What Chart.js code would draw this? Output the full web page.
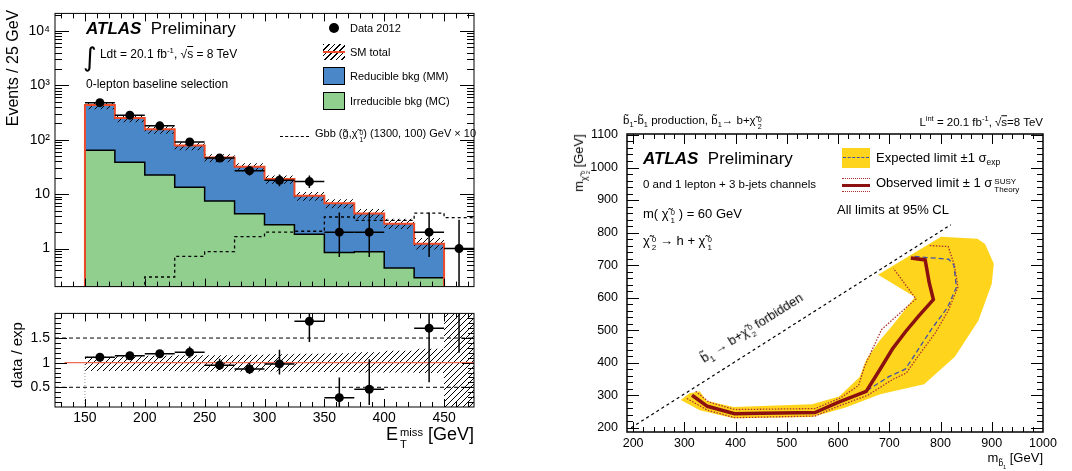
<!DOCTYPE html>
<html>
<head>
<meta charset="utf-8">
<script src="https://cdn.jsdelivr.net/npm/chart.js@4.4.1/dist/chart.umd.min.js"></script>
<style>
  html, body { margin:0; padding:0; background:#fff; }
  body { width:1072px; height:471px; position:relative; overflow:hidden; font-family:"Liberation Sans", Arial, Helvetica, sans-serif; color:#000; }
  canvas { position:absolute; }
  .t { position:absolute; white-space:nowrap; line-height:1; transform:translateY(-50%); }
  .r { transform:translate(-100%,-50%); }
  .rot { position:absolute; white-space:nowrap; line-height:1; transform:translate(-50%,-50%) rotate(-90deg); }
  .ss { display:inline-flex; flex-direction:column; vertical-align:0.32em; font-size:0.62em; line-height:1.0; margin-left:2px; }
  sup, sub { font-size:0.65em; line-height:0; }
  .sw { position:absolute; box-sizing:border-box; }
</style>
</head>
<body>
<canvas id="cMain" width="480" height="300" style="left:0;top:0"></canvas>
<canvas id="cRatio" width="480" height="171" style="left:0;top:300px"></canvas>
<canvas id="cLim" width="512" height="361" style="left:560px;top:110px"></canvas>

<!-- left panel text -->
<div class="t" style="left:86px;top:28px;font-size:17px"><b><i>ATLAS</i></b>&nbsp; Preliminary</div>
<div class="t" style="left:83px;top:57px;font-size:12px"><span style="font-size:26px;vertical-align:-0.3em;font-family:'DejaVu Sans'">∫</span> Ldt = 20.1 fb<sup>-1</sup>, √<span style="text-decoration:overline">s</span> = 8 TeV</div>
<div class="t" style="left:86px;top:84px;font-size:12px">0-lepton baseline selection</div>

<div class="sw" style="left:329px;top:23px;width:10px;height:10px;border-radius:50%;background:#000"></div>
<div class="t" style="left:350px;top:28px;font-size:11px">Data 2012</div>
<div class="sw" style="left:323px;top:44px;width:22px;height:16px;background:repeating-linear-gradient(135deg,#000 0 1px,transparent 1px 4px)"></div>
<div class="sw" style="left:323px;top:51px;width:22px;height:2px;background:#ee4b2b"></div>
<div class="t" style="left:350px;top:52px;font-size:11px">SM total</div>
<div class="sw" style="left:323px;top:67px;width:22px;height:18px;background:#4a87c9;border:1.5px solid #000"></div>
<div class="t" style="left:350px;top:76px;font-size:11px">Reducible bkg (MM)</div>
<div class="sw" style="left:323px;top:92px;width:22px;height:18px;background:#91cf8e;border:1.5px solid #000"></div>
<div class="t" style="left:350px;top:101px;font-size:11px">Irreducible bkg (MC)</div>
<div class="sw" style="left:280px;top:136px;width:29px;height:0;border-top:1.5px dashed #000"></div>
<div class="t" style="left:315px;top:136px;font-size:11px">Gbb (g&#771;,χ&#771;<span class="ss"><span>0</span><span>1</span></span>) (1300, 100) GeV × 10</div>

<div class="rot" style="left:13px;top:68px;font-size:16px">Events / 25 GeV</div>
<div class="rot" style="left:16px;top:355px;font-size:15px">data / exp</div>
<div class="t r" style="left:474px;top:437px;font-size:18px">E<span class="ss"><span>miss</span><span>T</span></span> [GeV]</div>

<!-- right panel text -->
<div class="t" style="left:623px;top:123px;font-size:11.5px">b&#771;<sub>1</sub>-b&#771;<sub>1</sub> production, b&#771;<sub>1</sub>→ b+χ&#771;<span class="ss"><span>0</span><span>2</span></span></div>
<div class="t r" style="left:1043px;top:123px;font-size:11.5px">L<sup>int</sup> = 20.1 fb<sup>-1</sup>, √<span style="text-decoration:overline">s</span>=8 TeV</div>
<div class="t" style="left:643px;top:158px;font-size:17px"><b><i>ATLAS</i></b>&nbsp; Preliminary</div>
<div class="t" style="left:643px;top:185px;font-size:11.5px">0 and 1 lepton + 3 b-jets channels</div>
<div class="t" style="left:643px;top:216px;font-size:13px">m( χ&#771;<span class="ss"><span>0</span><span>1</span></span> ) = 60 GeV</div>
<div class="t" style="left:643px;top:243px;font-size:13px">χ&#771;<span class="ss"><span>0</span><span>2</span></span> → h + χ&#771;<span class="ss"><span>0</span><span>1</span></span></div>

<div class="sw" style="left:842px;top:148px;width:28px;height:20px;background:#fed51c"></div>
<div class="sw" style="left:843px;top:157px;width:26px;height:0;border-top:1.5px dashed #4450a8"></div>
<div class="t" style="left:876px;top:157px;font-size:13px">Expected limit ±1 σ<sub>exp</sub></div>
<div class="sw" style="left:842px;top:178px;width:28px;height:0;border-top:1.3px dotted #b03030"></div>
<div class="sw" style="left:842px;top:184px;width:28px;height:3px;background:#8b1010"></div>
<div class="sw" style="left:842px;top:191px;width:28px;height:0;border-top:1.3px dotted #b03030"></div>
<div class="t" style="left:876px;top:185px;font-size:13px">Observed limit ± 1 σ<span class="ss"><span>SUSY</span><span>Theory</span></span></div>
<div class="t" style="left:837px;top:209px;font-size:13px">All limits at 95% CL</div>

<div class="t" style="left:753px;top:330px;font-size:13px;transform:translate(-50%,-50%) rotate(-32.3deg)">b&#771;<sub>1</sub> → b+χ&#771;<span class="ss"><span>0</span><span>2</span></span> forbidden</div>
<div class="rot" style="left:582px;top:163px;font-size:13px">m<span style="font-size:0.7em;vertical-align:-0.4em">χ&#771;<span class="ss"><span>0</span><span>2</span></span></span> [GeV]</div>
<div class="t r" style="left:1043px;top:459px;font-size:13px">m<sub>b&#771;<sub>1</sub></sub> [GeV]</div>

<script>
// ---------- left: E_T^miss distribution (log scale) ----------
const binEdges    = [150, 175, 200, 225, 250, 275, 300, 325, 350, 375, 400, 425, 450, 475];
const dataCounts  = [480, 283, 180, 91, 46, 27, 18, 17, 2, 2, 0, 2, 1];
const dataLow     = [459, 266, 167, 82, 39.5, 22, 14, 13, 0.7, 0.7, 0, 0.7, 0.17];
const dataHigh    = [502, 300, 194, 101, 53.5, 33, 23, 22, 4.6, 4.6, 0, 4.6, 3.4];
const smTotal     = [436, 252, 156, 78, 47, 32, 18.9, 9.3, 6.8, 4.4, 2.86, 1.22];
const irreducible = [64, 38.7, 22.4, 13.4, 7.5, 4.37, 2.75, 1.84, 0.85, 0.875, 0.44, 0.29];
const gbbSignal   = [0.1, 0.1, 0.30, 0.72, 0.875, 1.66, 2.0, 2.08, 3.8, 3.3, 3.3, 4.5, 3.7];
// relative SM uncertainty (last bin: full hatch in ratio panel)
const bandUp = [1.12, 1.13, 1.14, 1.15, 1.15, 1.16, 1.17, 1.18, 1.19, 1.21, 1.24, 1.28, 3.0];
const bandDn = [0.83, 0.83, 0.83, 0.82, 0.82, 0.82, 0.82, 0.81, 0.81, 0.80, 0.80, 0.79, 0.0];
// data / expected
const ratioVal  = [1.11, 1.14, 1.18, 1.21, 0.95, 0.87, 0.975, 1.84, 0.29, 0.46, 0, 1.70, 3.0];
const ratioLow  = [1.06, 1.08, 1.11, 1.10, 0.85, 0.77, 0.76, 1.42, 0.10, 0.14, 0, 0.60, 1.2];
const ratioHigh = [1.16, 1.20, 1.25, 1.33, 1.08, 1.00, 1.26, 2.60, 0.70, 1.07, 0, 2.60, 5.0];

const mainTicks = [1, 10, 100, 1000, 10000];
const mainTickLabels = ['1', '10', '10²', '10³', '10⁴'];
const ratioTicks = [0.5, 1, 1.5];
const ratioTickLabels = ['0.5', '1', '1.5'];
const metTicks = [150, 200, 250, 300, 350, 400, 450];

// ---------- right: exclusion limits in (m_b1, m_chi2) ----------
const yellowBand = [[293,285],[330,254],[396,229],[549,233],[615,262],[682,303],[768,334],[828,418],
  [874,530],[900,643],[904,704],[887,765],[872,781],[801,787],[678,670],[750,602],[705,512],[682,470],
  [655,410],[642,356],[602,296],[549,272],[396,264],[343,283],[330,312],[310,306]];
const expectedLimit = [[315,300],[345,266],[398,243],[450,245],[555,247],[600,278],[655,313],[700,358],
  [731,380],[748,420],[781,500],[814,571],[831,632],[826,700],[816,718],[745,727]];
const observedLimit = [[315,300],[345,266],[398,243],[450,245],[555,247],[600,278],[655,312],[682,380],
  [706,442],[732,496],[758,545],[786,594],[778,645],[770,716],[742,722]];
const observedUp = [[305,290],[345,254],[398,231],[555,236],[600,266],[658,300],[708,350],[733,368],
  [760,428],[790,492],[815,560],[834,632],[827,700],[815,757],[778,760]];
const observedDn = [[322,312],[348,279],[398,256],[555,259],[605,292],[640,330],[652,390],[685,502],
  [752,596],[708,690]];
const kinematicLimit = [[196,200],[820,824]];
const limXTicks = [200, 300, 400, 500, 600, 700, 800, 900, 1000];
const limYTicks = [200, 300, 400, 500, 600, 700, 800, 900, 1000, 1100];

const BLUE = '#4a87c9', GREEN = '#91cf8e', RED = '#ee4b2b', YELLOW = '#fed51c';
const FONT = 'Liberation Sans';

Chart.defaults.font.family = FONT;
Chart.defaults.color = '#000';

function range(a, b, s) { const r = []; for (let v = a; v <= b + 1e-9; v += s) r.push(+v.toFixed(4)); return r; }

function steps(vals, floor) {
  const pts = vals.map((v, i) => ({ x: binEdges[i], y: v }));
  if (floor !== undefined) {
    pts.unshift({ x: binEdges[0], y: floor });
    pts.push({ x: binEdges[vals.length], y: floor });
  } else {
    pts.push({ x: binEdges[vals.length], y: vals[vals.length - 1] });
  }
  return pts;
}

function hatch(canvas) {
  const c = document.createElement('canvas');
  c.width = c.height = 6;
  const g = c.getContext('2d');
  g.strokeStyle = '#000'; g.lineWidth = 1;
  g.beginPath();
  g.moveTo(0, 6); g.lineTo(6, 0);
  g.moveTo(-1, 1); g.lineTo(1, -1);
  g.moveTo(5, 7); g.lineTo(7, 5);
  g.stroke();
  return canvas.getContext('2d').createPattern(c, 'repeat');
}

// ROOT-like frame with inward ticks on all four sides
function frameTicks(cfg) {
  return {
    id: 'frameTicks',
    afterDraw(chart) {
      const { ctx, chartArea: a, scales: { x, y } } = chart;
      ctx.save();
      ctx.strokeStyle = '#000';
      ctx.lineWidth = 1;
      ctx.beginPath();
      const xt = (vals, len) => vals.forEach(v => {
        const p = Math.round(x.getPixelForValue(v)) + 0.5;
        if (p < a.left || p > a.right) return;
        ctx.moveTo(p, a.bottom); ctx.lineTo(p, a.bottom - len);
        ctx.moveTo(p, a.top); ctx.lineTo(p, a.top + len);
      });
      const yt = (vals, len) => vals.forEach(v => {
        const p = Math.round(y.getPixelForValue(v)) + 0.5;
        if (p < a.top || p > a.bottom) return;
        ctx.moveTo(a.left, p); ctx.lineTo(a.left + len, p);
        ctx.moveTo(a.right, p); ctx.lineTo(a.right - len, p);
      });
      xt(cfg.xMajor, cfg.xLen[0]); xt(cfg.xMinor, cfg.xLen[1]);
      yt(cfg.yMajor, cfg.yLen[0]); yt(cfg.yMinor, cfg.yLen[1]);
      ctx.stroke();
      ctx.lineWidth = cfg.lw || 1;
      ctx.strokeRect(a.left, a.top, a.width, a.height);
      ctx.restore();
    }
  };
}

const errorBars = {
  id: 'errorBars',
  afterDatasetsDraw(chart) {
    const { ctx, chartArea: a, scales: { x, y } } = chart;
    ctx.save();
    ctx.beginPath(); ctx.rect(a.left, a.top, a.width, a.height); ctx.clip();
    ctx.strokeStyle = '#000'; ctx.lineWidth = 1.5;
    chart.data.datasets.forEach(ds => {
      if (!ds.errLo) return;
      ds.data.forEach((p, i) => {
        if (p.y == null) return;
        const px = x.getPixelForValue(p.x), py = y.getPixelForValue(p.y);
        ctx.beginPath();
        ctx.moveTo(x.getPixelForValue(p.x - ds.xErr), py);
        ctx.lineTo(x.getPixelForValue(p.x + ds.xErr), py);
        ctx.moveTo(px, y.getPixelForValue(ds.errLo[i]));
        ctx.lineTo(px, y.getPixelForValue(ds.errHi[i]));
        ctx.stroke();
      });
    });
    ctx.restore();
  }
};

const binCenters = binEdges.slice(0, -1).map(e => e + 12.5);
const noLine = { borderColor: 'rgba(0,0,0,0)', borderWidth: 0, pointRadius: 0 };
const axisOff = { grid: { display: false, drawTicks: false }, border: { display: false } };

const logMinor = [];
[0.1, 1, 10, 100, 1000, 10000].forEach(d => { for (let m = 2; m <= 9; m++) logMinor.push(m * d); });

// ---- main histogram
const cMain = document.getElementById('cMain');
const hMain = hatch(cMain);
new Chart(cMain, {
  type: 'line',
  data: { datasets: [
    { data: steps(smTotal, 0.05), stepped: true, fill: 'start', backgroundColor: BLUE, ...noLine, order: 6 },
    { data: steps(irreducible, 0.05), stepped: true, fill: 'start', backgroundColor: GREEN, borderColor: '#000', borderWidth: 1.5, pointRadius: 0, order: 5 },
    { data: steps(smTotal.map((v, i) => v * bandUp[i])), stepped: true, fill: '+1', backgroundColor: hMain, ...noLine, order: 4 },
    { data: steps(smTotal.map((v, i) => v * bandDn[i])), stepped: true, fill: false, ...noLine, order: 4 },
    { data: steps(gbbSignal), stepped: true, fill: false, borderColor: '#000', borderWidth: 1.3, borderDash: [3, 3], pointRadius: 0, order: 3 },
    { data: steps(smTotal, 0.05), stepped: true, fill: false, borderColor: RED, borderWidth: 2, pointRadius: 0, order: 2 },
    { data: binCenters.map((x, i) => ({ x, y: dataCounts[i] > 0 ? dataCounts[i] : null })),
      showLine: false, pointRadius: 4.5, pointBackgroundColor: '#000', pointBorderWidth: 0,
      errLo: dataLow, errHi: dataHigh, xErr: 12.5, order: 1 }
  ]},
  options: {
    responsive: false, animation: false, events: [],
    layout: { padding: { left: 0, top: 6, right: 6, bottom: 4 } },
    plugins: { legend: { display: false }, tooltip: { enabled: false } },
    scales: {
      x: { type: 'linear', min: 125, max: 475, display: false },
      y: { type: 'logarithmic', min: 0.2, max: 21000, ...axisOff,
           afterFit: s => { s.width = 55; },
           afterBuildTicks: s => { s.ticks = mainTicks.map(v => ({ value: v })); },
           ticks: { font: { size: 14 }, color: '#000', padding: 5, callback: v => mainTickLabels[mainTicks.indexOf(v)] } }
    }
  },
  plugins: [errorBars, frameTicks({ xMajor: metTicks, xMinor: range(130, 470, 10), xLen: [8, 5],
                                    yMajor: mainTicks, yMinor: logMinor, yLen: [14, 7] })]
});

// ---- ratio panel
const cRatio = document.getElementById('cRatio');
const hRatio = hatch(cRatio);
new Chart(cRatio, {
  type: 'line',
  data: { datasets: [
    { data: bandUp.map((v, i) => ({ x: binEdges[i], y: v })).concat([{ x: 475, y: bandUp[12] }]), stepped: true, fill: '+1', backgroundColor: hRatio, ...noLine, order: 6 },
    { data: bandDn.map((v, i) => ({ x: binEdges[i], y: v })).concat([{ x: 475, y: bandDn[12] }]), stepped: true, fill: false, ...noLine, order: 6 },
    { data: [{ x: 133, y: 1 }, { x: 475, y: 1 }], borderColor: '#ef6a55', borderWidth: 1.3, pointRadius: 0, order: 3 },
    { data: [{ x: 125, y: 0.5 }, { x: 475, y: 0.5 }], borderColor: '#000', borderWidth: 1, borderDash: [4, 3], pointRadius: 0, order: 4 },
    { data: [{ x: 125, y: 1.5 }, { x: 475, y: 1.5 }], borderColor: '#000', borderWidth: 1, borderDash: [4, 3], pointRadius: 0, order: 4 },
    { data: [{ x: 150, y: 0.1 }, { x: 150, y: 1 }], borderColor: '#999', borderWidth: 1, borderDash: [1, 2], pointRadius: 0, order: 4 },
    { data: binCenters.map((x, i) => ({ x, y: ratioVal[i] > 0 ? ratioVal[i] : null })),
      showLine: false, pointRadius: 4.5, pointBackgroundColor: '#000', pointBorderWidth: 0,
      errLo: ratioLow, errHi: ratioHigh, xErr: 12.5, order: 1 }
  ]},
  options: {
    responsive: false, animation: false, events: [],
    layout: { padding: { left: 0, top: 5, right: 6, bottom: 0 } },
    plugins: { legend: { display: false }, tooltip: { enabled: false } },
    scales: {
      x: { type: 'linear', min: 125, max: 475, ...axisOff,
           afterFit: s => { s.height = 64; },
           afterBuildTicks: s => { s.ticks = metTicks.map(v => ({ value: v })); },
           ticks: { font: { size: 14 }, color: '#000', padding: 3, maxRotation: 0, autoSkip: false, callback: v => String(v) } },
      y: { type: 'linear', min: 0.1, max: 2.0, ...axisOff,
           afterFit: s => { s.width = 55; },
           afterBuildTicks: s => { s.ticks = ratioTicks.map(v => ({ value: v })); },
           ticks: { font: { size: 14 }, color: '#000', padding: 5, callback: v => ratioTickLabels[ratioTicks.indexOf(v)] } }
    }
  },
  plugins: [errorBars, frameTicks({ xMajor: metTicks, xMinor: range(130, 470, 10), xLen: [8, 5],
                                    yMajor: ratioTicks, yMinor: range(0.2, 1.9, 0.1), yLen: [12, 6] })]
});

// ---- limit plot
const cLim = document.getElementById('cLim');
const xy = arr => arr.map(([x, y]) => ({ x, y }));
new Chart(cLim, {
  type: 'line',
  data: { datasets: [
    { data: xy(yellowBand), fill: 'shape', backgroundColor: YELLOW, ...noLine, order: 6 },
    { data: xy(observedUp), borderColor: '#b03030', borderWidth: 1.3, borderDash: [1.5, 1.5], pointRadius: 0, fill: false, order: 4 },
    { data: xy(observedDn), borderColor: '#b03030', borderWidth: 1.3, borderDash: [1.5, 1.5], pointRadius: 0, fill: false, order: 4 },
    { data: xy(expectedLimit), borderColor: '#4450a8', borderWidth: 1.3, borderDash: [5, 3], pointRadius: 0, fill: false, order: 3 },
    { data: xy(observedLimit), borderColor: '#8b1010', borderWidth: 3.5, pointRadius: 0, fill: false, order: 2 },
    { data: xy(kinematicLimit), borderColor: '#000', borderWidth: 1.2, borderDash: [3, 3], pointRadius: 0, fill: false, order: 1 }
  ]},
  options: {
    responsive: false, animation: false, events: [],
    layout: { padding: { left: 0, top: 24, right: 29, bottom: 0 } },
    plugins: { legend: { display: false }, tooltip: { enabled: false } },
    scales: {
      x: { type: 'linear', min: 188, max: 1000, ...axisOff,
           afterFit: s => { s.height = 39; },
           afterBuildTicks: s => { s.ticks = limXTicks.map(v => ({ value: v })); },
           ticks: { font: { size: 12.5 }, color: '#000', padding: 4, maxRotation: 0, autoSkip: false, callback: v => String(v) } },
      y: { type: 'linear', min: 187, max: 1103, ...axisOff,
           afterFit: s => { s.width = 67; },
           afterBuildTicks: s => { s.ticks = limYTicks.map(v => ({ value: v })); },
           ticks: { font: { size: 12.5 }, color: '#000', padding: 9, callback: v => String(v) } }
    }
  },
  plugins: [frameTicks({ xMajor: limXTicks, xMinor: range(200, 1000, 20), xLen: [10, 5],
                         yMajor: limYTicks, yMinor: range(200, 1100, 20), yLen: [12, 6], lw: 1.5 })]
});
</script>
</body>
</html>
